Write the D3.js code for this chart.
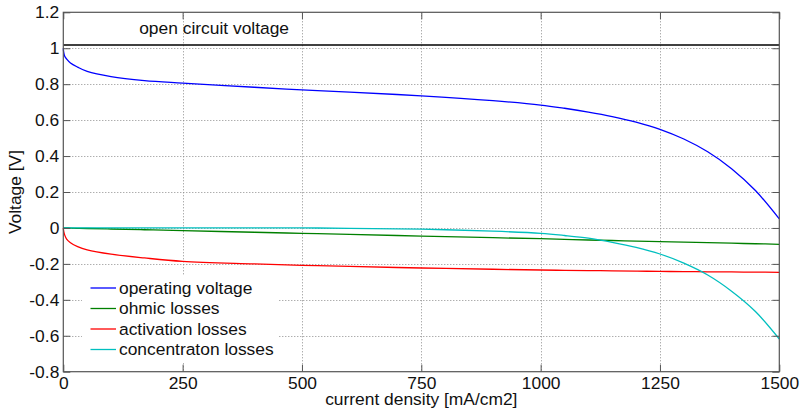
<!DOCTYPE html>
<html>
<head>
<meta charset="utf-8">
<script src="https://cdn.jsdelivr.net/npm/d3@7"></script>
<style>
    body { margin: 0; background: #fff; }
    svg { display: block; font-family: "Liberation Sans", Arial, sans-serif; }
</style>
</head>
<body>
<script>
// polarisation curve of a fuel cell: operating voltage and its loss terms

var currentDensity = [0, 1, 3, 7, 15, 30, 50, 100, 170, 250, 400, 500, 600, 750, 900,
                      1000, 1050, 1100, 1150, 1200, 1250, 1300, 1350, 1400, 1450, 1500];
var operatingVoltage = [1.0, 0.975, 0.955, 0.94, 0.918, 0.895, 0.871, 0.842, 0.820, 0.806,
                        0.783, 0.768, 0.756, 0.735, 0.708, 0.684, 0.666, 0.645, 0.620,
                        0.589, 0.549, 0.495, 0.424, 0.330, 0.208, 0.05];
var ohmicLosses = [0, 0, 0, 0, -0.001, -0.002, -0.003, -0.006, -0.010, -0.015, -0.024,
                   -0.030, -0.036, -0.045, -0.054, -0.060, -0.064, -0.067, -0.070, -0.073,
                   -0.076, -0.079, -0.082, -0.085, -0.088, -0.091];
var activationLosses = [0, -0.02, -0.04, -0.062, -0.082, -0.104, -0.122, -0.146, -0.167,
                        -0.186, -0.200, -0.208, -0.214, -0.223, -0.230, -0.234, -0.236,
                        -0.237, -0.239, -0.240, -0.242, -0.243, -0.244, -0.245, -0.246, -0.247];
var concentrationLosses = [0, 0, 0, 0, 0, 0, 0, 0, 0, 0, 0, 0, -0.002, -0.007, -0.018,
                           -0.030, -0.042, -0.057, -0.080, -0.108, -0.145, -0.196, -0.262,
                           -0.352, -0.465, -0.618];
var openCircuitVoltage = 1.018;

var seriesNames = ['operating voltage', 'ohmic losses', 'activation losses', 'concentraton losses'];
var seriesValues = [operatingVoltage, ohmicLosses, activationLosses, concentrationLosses];
var seriesColors = ['#0000ff', '#008000', '#ff0000', '#00bfbf'];

var xTicks = [0, 250, 500, 750, 1000, 1250, 1500];
var yTicks = [-0.8, -0.6, -0.4, -0.2, 0, 0.2, 0.4, 0.6, 0.8, 1, 1.2];
var yTickLabels = ['-0.8', '-0.6', '-0.4', '-0.2', '0', '0.2', '0.4', '0.6', '0.8', '1', '1.2'];

var width = 800, height = 411;
var plotLeft = 63.3, plotRight = 779.3, plotTop = 12.3, plotBottom = 371.7;
var fontSize = 17.4;

var svg = d3.select('body').append('svg')
            .attr('width', width)
            .attr('height', height);

var x = d3.scaleLinear().domain([0, 1500]).range([plotLeft, plotRight]);
var y = d3.scaleLinear().domain([-0.8, 1.2]).range([plotBottom, plotTop]);

// dotted grid
var grid = svg.append('g')
              .attr('stroke', '#8c8c8c')
              .attr('stroke-width', 1)
              .attr('stroke-dasharray', '1,2');
grid.selectAll('line.gx')
    .data(xTicks.slice(1, -1))
    .enter().append('line')
    .attr('x1', function(d) { return Math.round(x(d)) + 0.5; })
    .attr('x2', function(d) { return Math.round(x(d)) + 0.5; })
    .attr('y1', plotTop)
    .attr('y2', plotBottom);
grid.selectAll('line.gy')
    .data(yTicks.slice(1, -1))
    .enter().append('line')
    .attr('x1', plotLeft)
    .attr('x2', plotRight)
    .attr('y1', function(d) { return Math.round(y(d)) + 0.5; })
    .attr('y2', function(d) { return Math.round(y(d)) + 0.5; });

// open circuit voltage
svg.append('line')
    .attr('x1', x(0))
    .attr('x2', x(1500))
    .attr('y1', y(openCircuitVoltage))
    .attr('y2', y(openCircuitVoltage))
    .attr('stroke', '#000')
    .attr('stroke-width', 1.4);
svg.append('text')
    .attr('x', x(159))
    .attr('y', 33.5)
    .attr('font-size', fontSize)
    .attr('fill', '#111')
    .text('open circuit voltage');

// curves
var line = d3.line()
             .x(function(d, i) { return x(currentDensity[i]); })
             .y(function(d) { return y(d); })
             .curve(d3.curveCatmullRom.alpha(0.5));

for (var s = 0; s < seriesValues.length; s++)
{
    svg.append('path')
        .attr('d', line(seriesValues[s]))
        .attr('fill', 'none')
        .attr('stroke', seriesColors[s])
        .attr('stroke-width', 1.3);
}

// legend, white box without border
var legend = svg.append('g');
legend.append('rect')
    .attr('x', 82)
    .attr('y', 276)
    .attr('width', 197)
    .attr('height', 86)
    .attr('fill', '#fff');
for (var s = 0; s < seriesNames.length; s++)
{
    var ly = 288 + s * 20.5;
    legend.append('line')
        .attr('x1', 90.5)
        .attr('x2', 116)
        .attr('y1', ly)
        .attr('y2', ly)
        .attr('stroke', seriesColors[s])
        .attr('stroke-width', 1.3);
    legend.append('text')
        .attr('x', 119)
        .attr('y', ly + 5.5)
        .attr('font-size', fontSize)
        .attr('fill', '#111')
        .text(seriesNames[s]);
}

// axes, ticks pointing inwards on all four sides
var bottomAxis = d3.axisBottom(x).tickValues(xTicks).tickSize(-7).tickPadding(5)
                   .tickFormat(function(d) { return String(d); });
var leftAxis = d3.axisLeft(y).tickValues(yTicks).tickSize(-7).tickPadding(4)
                 .tickFormat(function(d, i) { return yTickLabels[i]; });
var topAxis = d3.axisTop(x).tickValues(xTicks).tickSize(-7).tickFormat('');
var rightAxis = d3.axisRight(y).tickValues(yTicks).tickSize(-7).tickFormat('');

var axes = [
    [bottomAxis, 'translate(0,' + plotBottom + ')'],
    [leftAxis, 'translate(' + plotLeft + ',0)'],
    [topAxis, 'translate(0,' + plotTop + ')'],
    [rightAxis, 'translate(' + plotRight + ',0)']
];
for (var a = 0; a < axes.length; a++)
{
    var g = svg.append('g')
               .attr('transform', axes[a][1])
               .call(axes[a][0]);
    g.select('.domain').remove();
    g.selectAll('line').attr('stroke', '#555');
    g.selectAll('text')
        .attr('font-size', fontSize)
        .attr('font-family', '"Liberation Sans", Arial, sans-serif')
        .attr('fill', '#111');
}

// box
svg.append('rect')
    .attr('x', plotLeft)
    .attr('y', plotTop)
    .attr('width', plotRight - plotLeft)
    .attr('height', plotBottom - plotTop)
    .attr('fill', 'none')
    .attr('stroke', '#555')
    .attr('stroke-width', 1.2);

// axis titles
svg.append('text')
    .attr('x', (plotLeft + plotRight) / 2)
    .attr('y', 405)
    .attr('text-anchor', 'middle')
    .attr('font-size', fontSize)
    .attr('fill', '#111')
    .text('current density [mA/cm2]');
svg.append('text')
    .attr('transform', 'translate(20.5,' + (plotTop + plotBottom) / 2 + ') rotate(-90)')
    .attr('text-anchor', 'middle')
    .attr('font-size', fontSize)
    .attr('fill', '#111')
    .text('Voltage [V]');
</script>
</body>
</html>
